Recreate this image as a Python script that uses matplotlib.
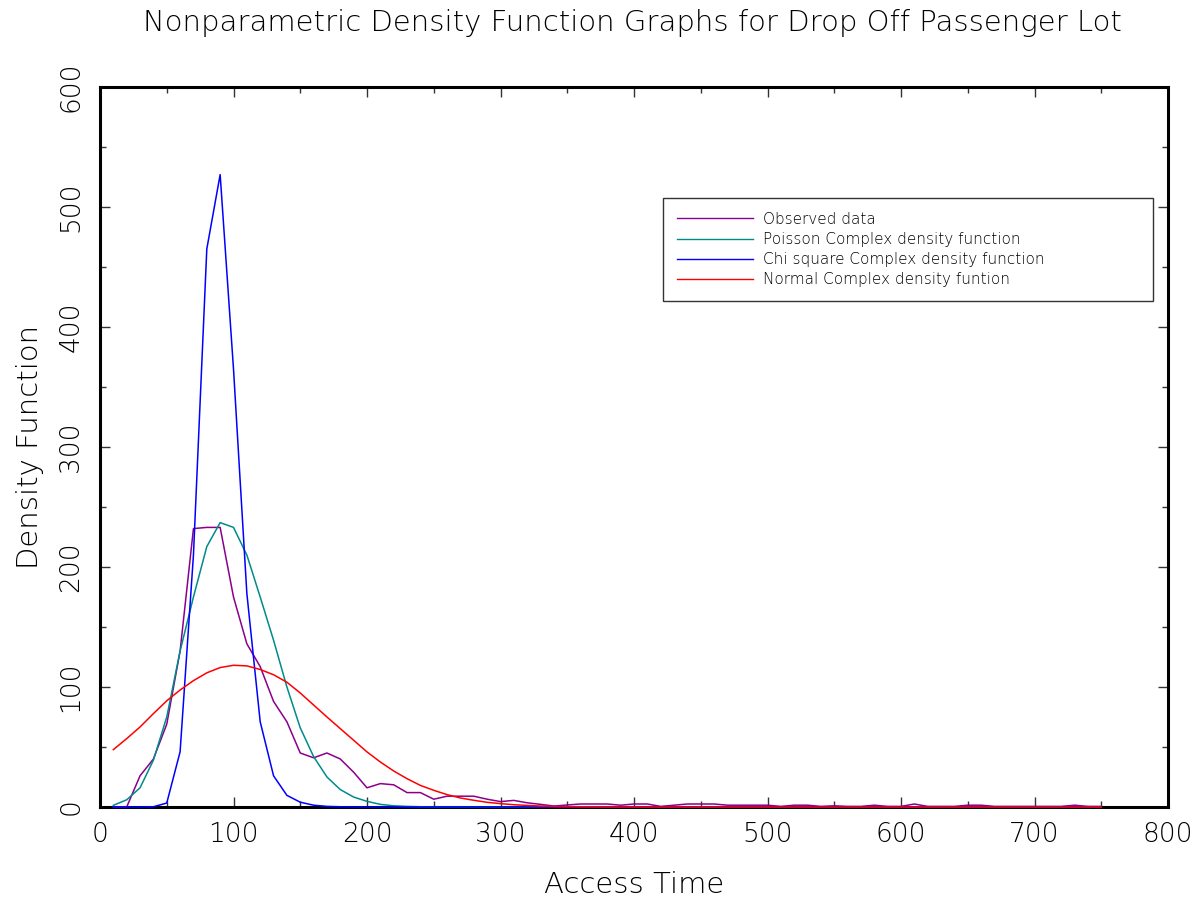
import numpy as np
import matplotlib
matplotlib.use("Agg")
import matplotlib.pyplot as plt
from matplotlib.ticker import MultipleLocator

# access time (x) sampled every 10 units
access_time = np.arange(10, 760, 10)

observed = [0, 0, 26, 40, 69, 130, 232, 233, 233, 175,
            136, 117, 88, 71, 45, 41, 45, 40, 29, 16,
            19.5, 18.5, 12, 12, 6.5, 9, 9, 9, 6.5, 4.5,
            5.5, 3.5, 2.2, 0.8, 1.7, 2.5, 2.5, 2.5, 1.5, 2.5,
            2.5, 0.5, 1.5, 2.5, 2.5, 2.5, 1.5, 1.5, 1.5, 1.5,
            0.5, 1.5, 1.5, 0.5, 1, 0.5, 0.5, 1.5, 0.5, 0.5,
            2.5, 0.5, 0.5, 0.5, 1.5, 1.5, 0.5, 0.5, 0.5, 0.5,
            0.5, 0.5, 1.5, 0.5, 0.5]

poisson = [1.4, 6, 16, 39, 75, 130, 175, 217, 237, 233,
           210, 175, 139, 100, 66, 42, 25, 14.5, 8.3, 4.7,
           2.2, 1, 0.5, 0.2] + [0] * 51

chi_square = [0, 0, 0, 0.2, 3.3, 46, 210, 465, 527, 365,
              178, 71, 26, 9.7, 4, 1.5, 0.5, 0.2] + [0] * 57

normal = [47.8, 57, 66.7, 77.8, 88.5, 97.5, 105.3, 111.8, 116.2, 118.1,
          117.6, 114.6, 110.2, 104, 95, 85, 75, 65.3, 55.6, 45.9,
          37.5, 30, 23.6, 18, 13.9, 10.3, 7.5, 5.6, 3.9, 2.8,
          1.9, 1.3, 0.8, 0.5, 0.3, 0.2, 0.1] + [0] * 38

labels = ["Observed data", "Poisson Complex density function",
          "Chi square Complex density function", "Normal Complex density funtion"]
colors = ["#8b008b", "#008b8b", "#0000ff", "#ff0000"]

plt.rcParams['font.family'] = ['DejaVu Sans']
plt.rcParams['font.weight'] = 'light'
plt.rcParams['axes.labelweight'] = 'light'

fig = plt.figure(figsize=(12, 9.01), dpi=100)
ax = fig.add_axes([100 / 1200, 1 - 807 / 901, 1068 / 1200, 720 / 901])

for y, lab, c in zip([observed, poisson, chi_square, normal], labels, colors):
    ax.plot(access_time, y, color=c, lw=1.1, label=lab, clip_on=False, zorder=3)

ax.set_xlim(0, 800)
ax.set_ylim(0, 600)
ax.xaxis.set_major_locator(MultipleLocator(100))
ax.xaxis.set_minor_locator(MultipleLocator(50))
ax.yaxis.set_major_locator(MultipleLocator(100))
ax.yaxis.set_minor_locator(MultipleLocator(50))
ax.tick_params(which='both', direction='in', top=True, right=True, width=1, color='#333333')
ax.tick_params(which='major', length=7)
ax.tick_params(which='minor', length=4.5)
ax.tick_params(axis='x', labelsize=19, pad=11, labelcolor='black')
ax.tick_params(axis='y', labelsize=19, pad=12, labelcolor='black')
for t in ax.get_yticklabels():
    t.set_rotation(90)
    t.set_va('center')
for s in ax.spines.values():
    s.set_linewidth(2.2)

ax.set_xlabel('Access Time', fontsize=21, labelpad=17)
ax.set_ylabel('Density Function', fontsize=21, labelpad=10)
fig.text(0.527, 1 - 23 / 901, 'Nonparametric Density Function Graphs for Drop Off Passenger Lot',
         fontsize=21, ha='center', va='center')

x0, x1 = 563 / 1068, 1053 / 1068
y0, y1 = (807 - 298) / 720, (807 - 198) / 720
leg = ax.legend(loc='upper left', bbox_to_anchor=(x0, y0, x1 - x0, y1 - y0), mode='expand',
                fontsize=11, frameon=True, fancybox=False, edgecolor='black',
                handlelength=5.0, handletextpad=0.65, borderpad=0.9,
                labelspacing=0.34, borderaxespad=0)
leg.get_frame().set_linewidth(1)
for h in leg.get_lines():
    h.set_linewidth(1)

fig.savefig('out.png', dpi=100)
